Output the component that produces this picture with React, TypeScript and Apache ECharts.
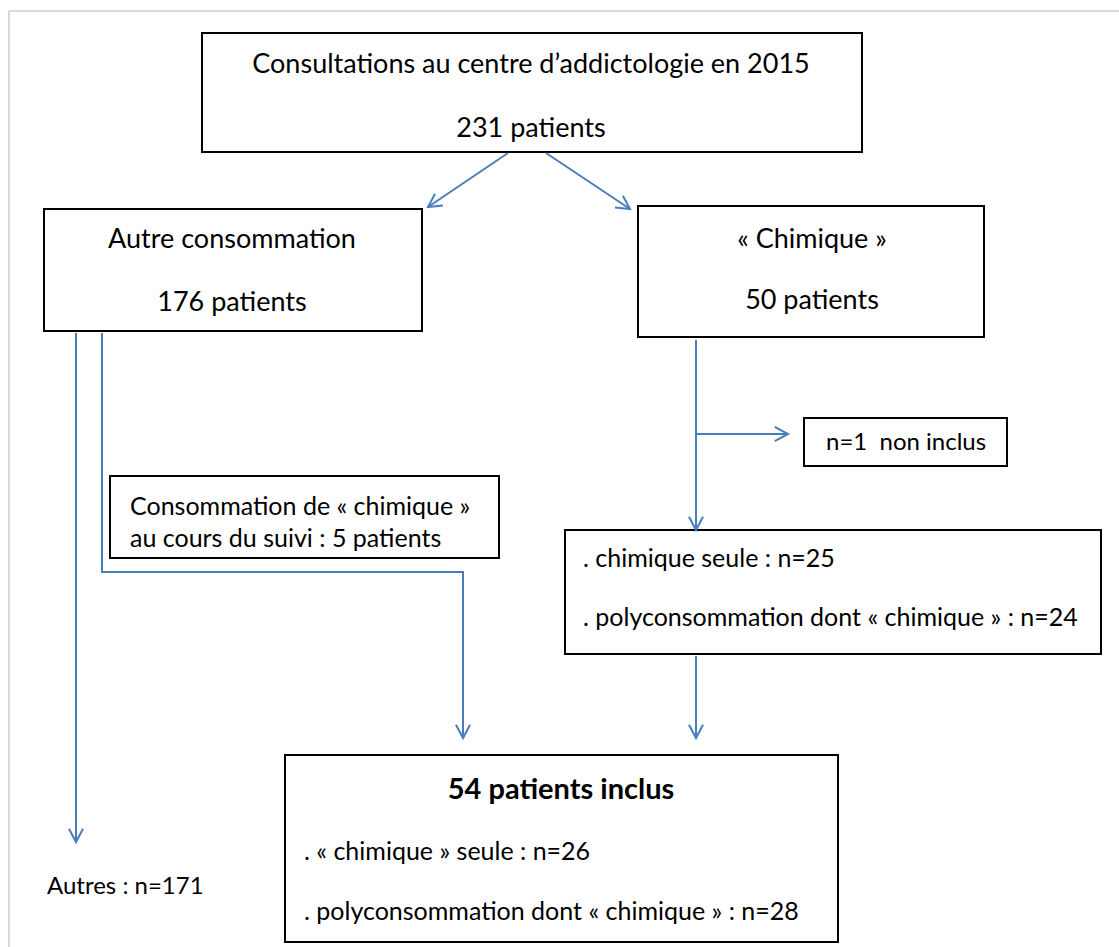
import React, { useEffect, useRef } from "react";
import * as echarts from "echarts";

const totalPatients = 231;
const branchLabels = ["Autre consommation", "« Chimique »"];
const branchCounts = [176, 50];
const excludedCount = [1];
const followUpCount = [5];
const chemGroupLabels = ["chimique seule", "polyconsommation dont « chimique »"];
const chemGroupCounts = [25, 24];
const includedCount = 54;
const includedLabels = ["« chimique » seule", "polyconsommation dont « chimique »"];
const includedCounts = [26, 28];
const otherCount = [171];

const W = 1119;
const H = 947;
const BLUE = "#4a7ebb";
const FONT = "Lato, 'Noto Sans', sans-serif";
const FS = 27;
const FS2 = 25;

function rect(x: number, y: number, w: number, h: number) {
  return {
    type: "rect",
    shape: { x, y, width: w, height: h },
    style: { fill: "#fff", stroke: "#000", lineWidth: 2 },
  };
}

function text(str: string, x: number, y: number, align: string, opts: any = {}) {
  return {
    type: "text",
    x,
    y,
    style: {
      text: str,
      fill: "#000",
      fontFamily: FONT,
      fontSize: opts.fontSize || FS,
      fontWeight: opts.fontWeight || "normal",
      align,
      verticalAlign: "middle",
    },
  };
}

function arrow(points: number[][]) {
  const n = points.length;
  const [x1, y1] = points[n - 2];
  const [x2, y2] = points[n - 1];
  const ang = Math.atan2(y2 - y1, x2 - x1);
  const len = 15;
  const half = (28 * Math.PI) / 180;
  const a1 = [x2 - len * Math.cos(ang - half), y2 - len * Math.sin(ang - half)];
  const a2 = [x2 - len * Math.cos(ang + half), y2 - len * Math.sin(ang + half)];
  return [
    {
      type: "polyline",
      shape: { points },
      style: { stroke: BLUE, lineWidth: 2, fill: null },
    },
    {
      type: "polyline",
      shape: { points: [a1, [x2, y2], a2] },
      style: { stroke: BLUE, lineWidth: 2, fill: null },
    },
  ];
}

export default function App() {
  const ref = useRef<HTMLDivElement>(null);
  useEffect(() => {
    document.body.style.margin = "0";
    const chart = echarts.init(ref.current!, null, { renderer: "svg" });
    const elements: any[] = [
      // frame
      { type: "line", shape: { x1: 9, y1: 11, x2: W, y2: 11 }, style: { stroke: "#d9d9d9", lineWidth: 2 } },
      { type: "line", shape: { x1: 9, y1: 11, x2: 9, y2: H }, style: { stroke: "#d9d9d9", lineWidth: 2 } },
      // boxes
      rect(202, 33, 660, 119),
      rect(44, 209, 378, 122),
      rect(638, 206, 346, 131),
      rect(804, 418, 203, 48),
      rect(110, 476, 389, 82),
      rect(565, 530, 536, 124),
      rect(285, 755, 553, 187),
      // texts
      text("Consultations au centre d’addictologie en 2015", 531, 62, "center"),
      text(`${totalPatients} patients`, 531, 126, "center"),
      text(branchLabels[0], 232, 237, "center"),
      text(`${branchCounts[0]} patients`, 232, 300, "center"),
      text(branchLabels[1], 812, 237, "center"),
      text(`${branchCounts[1]} patients`, 812, 298, "center"),
      text(`n=${excludedCount[0]}  non inclus`, 826, 440, "left", { fontSize: 24 }),
      text("Consommation de « chimique »", 130, 505, "left", { fontSize: FS2 }),
      text(`au cours du suivi : ${followUpCount[0]} patients`, 130, 537, "left", { fontSize: FS2 }),
      text(`. ${chemGroupLabels[0]} : n=${chemGroupCounts[0]}`, 583, 557, "left", { fontSize: FS2 }),
      text(`. ${chemGroupLabels[1]} : n=${chemGroupCounts[1]}`, 583, 616, "left", { fontSize: FS2 }),
      text(`${includedCount} patients inclus`, 561, 787, "center", { fontSize: 29, fontWeight: "bold" }),
      text(`. ${includedLabels[0]} : n=${includedCounts[0]}`, 304, 850, "left", { fontSize: FS2 }),
      text(`. ${includedLabels[1]} : n=${includedCounts[1]}`, 304, 910, "left", { fontSize: FS2 }),
      text(`Autres : n=${otherCount[0]}`, 47, 884, "left", { fontSize: 24 }),
      // arrows
      ...arrow([[508, 153], [428, 207]]),
      ...arrow([[546, 153], [630, 209]]),
      ...arrow([[76, 333], [76, 842]]),
      ...arrow([[102, 333], [102, 572], [463, 572], [463, 738]]),
      ...arrow([[696, 340], [696, 530]]),
      ...arrow([[696, 434], [788, 434]]),
      ...arrow([[696, 656], [696, 738]]),
    ];
    chart.setOption({
      animation: false,
      graphic: { elements },
    });
    return () => chart.dispose();
  }, []);
  return <div ref={ref} style={{ width: W, height: H, background: "#fff" }} />;
}
